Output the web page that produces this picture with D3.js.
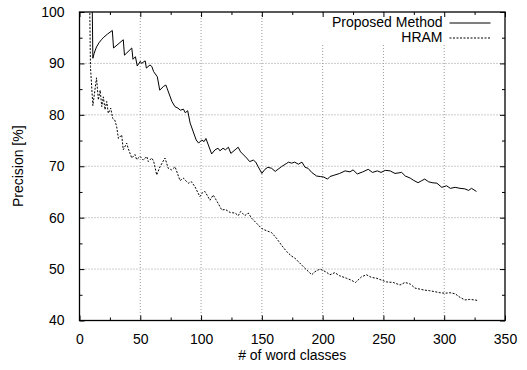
<!DOCTYPE html>
<html lang="en">
<head>
    <meta charset="utf-8">
    <script src="https://d3js.org/d3.v7.min.js"></script>
    <style>
        body { margin: 0; background: white; }
        text { font-family: "Liberation Sans", Arial, sans-serif; font-size: 14px; fill: black; }
    </style>
</head>
<body>
    <div id="chart"></div>

    <script>
        // data: x = # of word classes, y = precision [%]
        const proposedX = [10, 11, 12, 13, 14, 16, 18, 20, 23, 27, 28, 36, 37, 43, 44, 46, 47.5, 50, 51, 54, 55, 58, 59.5, 61, 64, 66, 69, 71, 72, 76, 78.5, 81, 83, 85.5, 87, 89, 91, 96, 98, 100.5, 102.5, 104, 108.7, 111.5, 114, 115.5, 118, 120, 122.5, 124.5, 128, 130.5, 132.5, 137.5, 140, 143, 145, 147, 150, 152.5, 155, 158, 161, 166, 170, 172, 174.5, 177, 180, 183, 185.5, 188, 191, 195, 198, 201, 204, 206, 210, 214, 218.5, 222.5, 225, 228.5, 233, 237.5, 241, 245, 248, 251.5, 255.5, 259.5, 265, 268, 272, 274.5, 278.5, 281.5, 284, 287, 290, 294, 298, 302, 305, 309, 313, 317, 320, 322.5, 326.5];
        const proposedY = [110, 91, 91.9, 92.6, 93.2, 94.0, 94.6, 95.1, 95.7, 96.4, 93.0, 94.6, 91.6, 93.0, 90.8, 91.3, 89.5, 90.4, 90.0, 90.5, 89.1, 89.7, 89.4, 88.4, 87.4, 84.8, 85.5, 85.8, 85.2, 82.6, 81.6, 81.3, 80.9, 81.1, 80.4, 80.8, 78.4, 75.1, 74.5, 75.1, 74.8, 75.4, 72.4, 73.2, 73.5, 73.0, 73.5, 73.2, 73.7, 72.5, 73.2, 73.7, 72.8, 71.6, 70.9, 71.2, 70.8, 69.9, 68.6, 69.4, 69.8, 69.6, 69.0, 69.9, 70.5, 70.8, 70.6, 70.8, 70.4, 70.8, 69.8, 69.6, 68.8, 68.1, 68.0, 67.9, 67.5, 68.0, 68.3, 68.6, 69.1, 68.9, 69.3, 68.5, 68.9, 69.4, 68.8, 69.1, 68.8, 69.2, 69.1, 68.6, 68.8, 68.1, 67.7, 67.3, 66.8, 67.2, 67.5, 67.0, 66.8, 66.7, 65.9, 66.2, 65.7, 65.9, 65.7, 65.6, 65.3, 65.7, 65.1];

        const hramX = [8, 9, 11, 14, 15.5, 17, 18.3, 19.6, 21, 22.4, 23.7, 25.7, 27.3, 29, 30.6, 32, 34.7, 36, 38.8, 40, 43, 45.6, 47, 49.8, 52.5, 55.3, 56.6, 59.4, 61, 63.5, 66.2, 70.3, 73, 75.8, 78.6, 82.7, 85.4, 88.2, 89.5, 92, 95, 99, 101.3, 103.2, 107.3, 110, 114, 117, 120, 124, 128, 130.6, 132.6, 136, 138.8, 141.6, 145.7, 149.8, 153.4, 158, 162, 166, 170.4, 174, 177.3, 184, 191, 193.7, 197.8, 200.6, 203, 206, 210, 214, 219.8, 223, 227, 232, 236, 240, 244.5, 248, 252.7, 258, 263.6, 267.8, 272, 276, 280, 284, 288, 292.4, 296.5, 300.6, 304.8, 309, 313, 317, 321, 325, 327.5];
        const hramY = [110, 89.4, 81.8, 87.2, 82.9, 84.8, 81.6, 83.5, 81.0, 82.6, 80.3, 81.3, 79.3, 79.0, 77.7, 75.4, 76.1, 73.2, 74.5, 73.5, 71.6, 72.3, 71.3, 71.9, 71.2, 71.9, 70.9, 71.6, 71.0, 68.3, 69.9, 71.6, 69.6, 69.3, 69.9, 67.2, 67.7, 67.0, 66.7, 67.0, 66.0, 64.1, 64.9, 65.1, 63.4, 64.4, 62.8, 61.5, 61.6, 61.0, 60.9, 60.4, 61.2, 60.4, 60.9, 59.9, 58.9, 57.9, 57.5, 57.1, 56.0, 54.7, 53.4, 52.6, 52.1, 50.5, 48.9, 49.5, 50.0, 49.7, 49.4, 48.9, 49.3, 48.7, 48.2, 47.9, 47.4, 48.5, 48.9, 48.4, 48.2, 47.9, 47.5, 47.4, 46.9, 47.4, 47.1, 46.3, 46.1, 45.9, 45.8, 45.6, 45.4, 45.3, 45.4, 45.2, 44.5, 44.0, 44.1, 44.0, 43.9];

        const xTicks = [0, 50, 100, 150, 200, 250, 300, 350];
        const yTicks = [40, 50, 60, 70, 80, 90, 100];
        const seriesNames = ["Proposed Method", "HRAM"];

        // sets the dimensions and margins of the graph
        const margin = { top: 12, right: 22, bottom: 49.5, left: 79.5 },
            width = 527 - margin.left - margin.right,
            height = 370 - margin.top - margin.bottom;

        const svg = d3.select("#chart")
            .append("svg")
            .attr("width", 527)
            .attr("height", 370)
            .append("g")
            .attr("transform", `translate(${margin.left}, ${margin.top})`);

        const x = d3.scaleLinear().domain([0, 350]).range([0, width]);
        const y = d3.scaleLinear().domain([40, 100]).range([height, 0]);

        // grid lines (dotted)
        svg.append("g")
            .selectAll("line")
            .data(xTicks.slice(1, -1))
            .join("line")
            .attr("class", "grid")
            .attr("x1", d => x(d)).attr("x2", d => x(d))
            .attr("y1", 0).attr("y2", height);
        svg.append("g")
            .selectAll("line")
            .data(yTicks.slice(1, -1))
            .join("line")
            .attr("class", "grid")
            .attr("x1", 0).attr("x2", width)
            .attr("y1", d => y(d)).attr("y2", d => y(d));
        svg.selectAll(".grid")
            .attr("stroke", "#9a9a9a")
            .attr("stroke-width", 1)
            .attr("stroke-dasharray", "1,2");

        // key box hides the grid behind it, like gnuplot does
        svg.append("rect")
            .attr("x", 238).attr("y", 1)
            .attr("width", 180).attr("height", 32)
            .attr("fill", "white");

        // clip lines to plot area
        svg.append("clipPath").attr("id", "clip")
            .append("rect").attr("width", width).attr("height", height);

        const line = d3.line()
            .x(d => x(d[0]))
            .y(d => y(d[1]));

        const proposed = proposedX.map((v, i) => [v, proposedY[i]]);
        const hram = hramX.map((v, i) => [v, hramY[i]]);

        svg.append("path")
            .datum(hram)
            .attr("clip-path", "url(#clip)")
            .attr("fill", "none")
            .attr("stroke", "black")
            .attr("stroke-width", 1)
            .attr("stroke-dasharray", "2,1.5")
            .attr("d", line);

        svg.append("path")
            .datum(proposed)
            .attr("clip-path", "url(#clip)")
            .attr("fill", "none")
            .attr("stroke", "black")
            .attr("stroke-width", 1)
            .attr("d", line);

        // axes with inward ticks, mirrored on all sides
        const xMinor = d3.range(25, 350, 50);
        const yMinor = d3.range(45, 100, 10);

        svg.append("g")
            .attr("transform", `translate(0, ${height})`)
            .call(d3.axisBottom(x).tickValues(xTicks).tickSize(-5).tickPadding(14).tickFormat(d3.format("d")));
        svg.append("g")
            .call(d3.axisLeft(y).tickValues(yTicks).tickSize(-5).tickPadding(15));
        svg.append("g")
            .call(d3.axisTop(x).tickValues(xTicks).tickSize(-5).tickFormat(""));
        svg.append("g")
            .attr("transform", `translate(${width}, 0)`)
            .call(d3.axisRight(y).tickValues(yTicks).tickSize(-5).tickFormat(""));

        // minor ticks
        svg.append("g").attr("transform", `translate(0, ${height})`)
            .call(d3.axisBottom(x).tickValues(xMinor).tickSize(-3).tickFormat(""));
        svg.append("g")
            .call(d3.axisTop(x).tickValues(xMinor).tickSize(-3).tickFormat(""));
        svg.append("g")
            .call(d3.axisLeft(y).tickValues(yMinor).tickSize(-3).tickFormat(""));
        svg.append("g").attr("transform", `translate(${width}, 0)`)
            .call(d3.axisRight(y).tickValues(yMinor).tickSize(-3).tickFormat(""));

        svg.selectAll(".domain").remove();
        svg.selectAll(".tick line").attr("stroke", "black");
        svg.selectAll(".tick text")
            .style("font-family", "'Liberation Sans', Arial, sans-serif")
            .style("font-size", "14px")
            .attr("fill", "black");

        // border
        svg.append("rect")
            .attr("width", width).attr("height", height)
            .attr("fill", "none")
            .attr("stroke", "black")
            .attr("stroke-width", 1.3);

        // axis labels
        svg.append("text")
            .attr("x", width / 2)
            .attr("y", height + 39.5)
            .style("text-anchor", "middle")
            .text("# of word classes");

        svg.append("text")
            .attr("transform", "rotate(-90)")
            .attr("x", -height / 2)
            .attr("y", -56.5)
            .style("text-anchor", "middle")
            .text("Precision [%]");

        // key
        const key = svg.append("g");
        seriesNames.forEach((name, i) => {
            key.append("text")
                .attr("x", 363)
                .attr("y", 15 + i * 15)
                .style("text-anchor", "end")
                .text(name);
            key.append("line")
                .attr("x1", 370).attr("x2", 411)
                .attr("y1", 11 + i * 15).attr("y2", 11 + i * 15)
                .attr("stroke", "black")
                .attr("stroke-width", 1)
                .attr("stroke-dasharray", i === 1 ? "2,1.5" : null);
        });
    </script>
</body>
</html>
